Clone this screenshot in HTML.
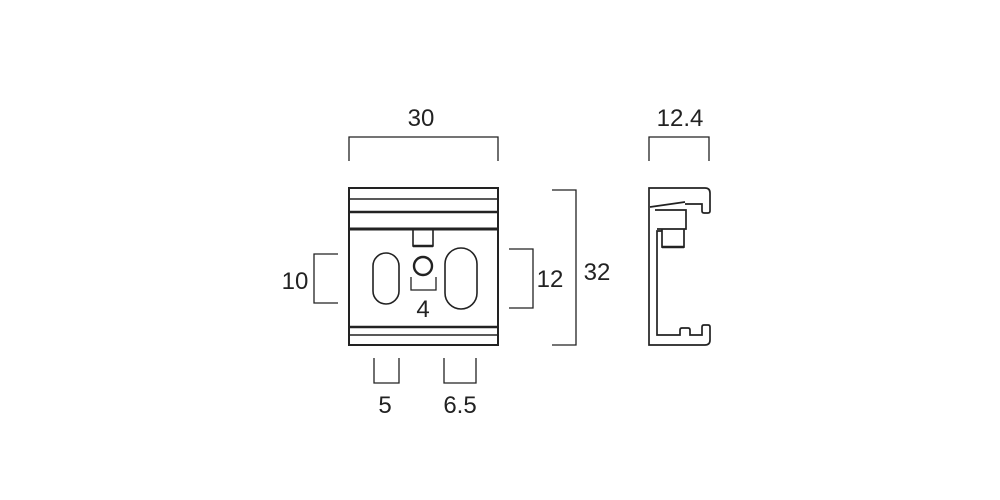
<!DOCTYPE html>
<html><head><style>body{margin:0;background:#fff}svg{display:block}</style></head><body>
<svg width="1000" height="500" viewBox="0 0 1000 500" xmlns="http://www.w3.org/2000/svg">
<g fill="none" stroke="#222" stroke-width="1.3">
<path d="M349 161V137H498V161"/>
<path d="M552 190H576V345H552"/>
<path d="M509 249H533V308H509"/>
<path d="M338 254H314V303H338"/>
<path d="M374 358V383H399V358"/>
<path d="M444 358V383H476V358"/>
<path d="M649 161V137H709V161"/>
<path d="M411 277V290H436V277"/>
<rect x="349" y="188" width="149" height="157" stroke-width="2"/>
<line x1="349" y1="199" x2="498" y2="199" stroke-width="1.6"/>
<line x1="349" y1="212" x2="498" y2="212" stroke-width="2.4"/>
<line x1="349" y1="229" x2="498" y2="229" stroke-width="3"/>
<line x1="349" y1="327" x2="498" y2="327" stroke-width="2.6"/>
<line x1="349" y1="335" x2="498" y2="335" stroke-width="1.6"/>
<path d="M413 229V246H433V229" stroke-width="1.6"/>
<line x1="413" y1="246" x2="433" y2="246" stroke-width="2.5"/>
<circle cx="423" cy="266" r="9" stroke-width="2.4"/>
<rect x="373" y="253" width="26" height="51" rx="13" stroke-width="1.6"/>
<rect x="445" y="248" width="32" height="61" rx="16" stroke-width="1.6"/>
<g stroke-width="1.7">
<path d="M649 207V188H705Q710 188 710 193V211Q710 213 708 213H704Q702 213 702 211V204H685"/>
<path d="M650 207L685 202"/>
<path d="M649 207V345H705Q710 345 710 340V327Q710 325 708 325H704Q702 325 702 327V335H690V330Q690 328 688 328H682Q680 328 680 330V335H657V231H662"/>
<path d="M655 210H686V229H657"/>
<path d="M662 229V247H684V229"/>
<line x1="662" y1="247" x2="684" y2="247" stroke-width="2.5"/>
</g>
</g>
<g font-family="Liberation Sans, sans-serif" font-size="24" fill="#222" text-anchor="middle">
<text x="421" y="126">30</text>
<text x="680" y="126">12.4</text>
<text x="597" y="280">32</text>
<text x="550" y="287">12</text>
<text x="295" y="289">10</text>
<text x="423" y="317">4</text>
<text x="385" y="413">5</text>
<text x="460" y="413">6.5</text>
</g>
</svg>
</body></html>
